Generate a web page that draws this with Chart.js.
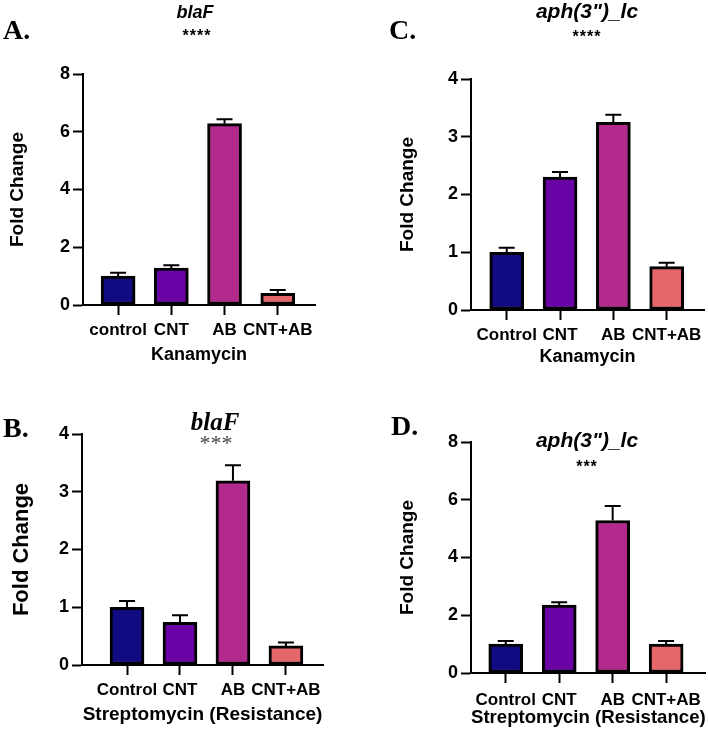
<!DOCTYPE html>
<html>
<head>
<meta charset="utf-8">
<script src="https://cdn.jsdelivr.net/npm/chart.js@4.4.1/dist/chart.umd.min.js"></script>
<style>
  body { margin: 0; background: #fff; }
  #page { position: relative; width: 708px; height: 736px; overflow: hidden; background: #fff; }
  canvas { position: absolute; }
  .lbl { position: absolute; white-space: nowrap; color: #000; }
  .panel { font-family: "Liberation Serif", "Times New Roman", serif; font-weight: bold; font-size: 28px; line-height: 28px; }
  .gene { font-family: "Liberation Sans", Arial, sans-serif; font-weight: bold; font-style: italic; font-size: 18px; line-height: 18px; text-align: center; }
  .stars { font-family: "Liberation Sans", Arial, sans-serif; font-weight: bold; font-size: 16px; line-height: 16px; text-align: center; letter-spacing: 1px; }
</style>
</head>
<body>
<div id="page">
  <canvas id="chartA" width="354" height="368" style="left:0;top:0"></canvas>
  <canvas id="chartC" width="354" height="368" style="left:354px;top:0"></canvas>
  <canvas id="chartB" width="354" height="368" style="left:0;top:368px"></canvas>
  <canvas id="chartD" width="354" height="368" style="left:354px;top:368px"></canvas>

  <div class="lbl panel" style="left:3px;top:16px">A.</div>
  <div class="lbl panel" style="left:389px;top:16px">C.</div>
  <div class="lbl panel" style="left:3px;top:414px">B.</div>
  <div class="lbl panel" style="left:391px;top:412px">D.</div>

  <div class="lbl gene" style="left:145px;width:100px;top:3px">blaF</div>
  <div class="lbl stars" style="left:147px;width:100px;top:28px">****</div>

  <div class="lbl gene" style="left:517px;width:140px;top:0px;font-size:21px;line-height:21px">aph(3")_lc</div>
  <div class="lbl stars" style="left:537px;width:100px;top:29px">****</div>

  <div class="lbl" style="left:165px;width:100px;top:409px;text-align:center;font-family:'Liberation Serif','Times New Roman',serif;font-weight:bold;font-style:italic;font-size:25px;line-height:25px">blaF</div>
  <div class="lbl" style="left:166px;width:100px;top:432px;text-align:center;font-family:'Liberation Serif','Times New Roman',serif;font-size:22px;line-height:22px;color:#444">***</div>

  <div class="lbl gene" style="left:517px;width:140px;top:429px;font-size:21px;line-height:21px">aph(3")_lc</div>
  <div class="lbl stars" style="left:537px;width:100px;top:459px">***</div>
</div>

<script>
// groups
const labelsA = ["control", "CNT", "AB", "CNT+AB"];
const labelsOther = ["Control", "CNT", "AB", "CNT+AB"];

// A. blaF, Kanamycin
const blaFKanMean = [1.0, 1.28, 6.28, 0.4];
const blaFKanErr = [0.12, 0.1, 0.15, 0.12];
// C. aph(3")_lc, Kanamycin
const aphKanMean = [1.0, 2.3, 3.25, 0.75];
const aphKanErr = [0.08, 0.09, 0.13, 0.07];
// B. blaF, Streptomycin
const blaFStrMean = [1.0, 0.74, 3.19, 0.33];
const blaFStrErr = [0.11, 0.12, 0.27, 0.06];
// D. aph(3")_lc, Streptomycin
const aphStrMean = [1.0, 2.35, 5.28, 1.0];
const aphStrErr = [0.11, 0.1, 0.5, 0.11];

const yTicksA = [0, 2, 4, 6, 8];
const yTicksC = [0, 1, 2, 3, 4];
const yTicksB = [0, 1, 2, 3, 4];
const yTicksD = [0, 2, 4, 6, 8];

const barColors = ["#100b80", "#6a03a6", "#b32a8d", "#e6676a"];
const SANS = "'Liberation Sans', Arial, sans-serif";

// draws the SEM bars on top of each column
const errorBars = {
  id: "errorBars",
  afterDatasetsDraw(chart) {
    const ctx = chart.ctx;
    const ds = chart.data.datasets[0];
    const yScale = chart.scales.y;
    chart.getDatasetMeta(0).data.forEach(function (bar, i) {
      const top = yScale.getPixelForValue(ds.data[i].y + ds.errors[i]);
      ctx.save();
      ctx.strokeStyle = "#000";
      ctx.lineWidth = 2;
      ctx.beginPath();
      ctx.moveTo(bar.x, bar.y);
      ctx.lineTo(bar.x, top);
      ctx.moveTo(bar.x - 8, top);
      ctx.lineTo(bar.x + 8, top);
      ctx.stroke();
      ctx.restore();
    });
  }
};

function makeChart(id, p) {
  const ctx = document.getElementById(id).getContext("2d");
  return new Chart(ctx, {
    type: "bar",
    data: {
      datasets: [{
        data: p.means.map(function (v, i) { return { x: i, y: v }; }),
        errors: p.errs,
        backgroundColor: barColors,
        borderColor: "#000",
        borderWidth: 3,
        borderSkipped: false,
        barThickness: 34
      }]
    },
    plugins: [errorBars],
    options: {
      responsive: false,
      animation: false,
      devicePixelRatio: 1,
      layout: { padding: { left: 0, top: p.padTop, right: p.padRight, bottom: 0 } },
      plugins: { legend: { display: false }, tooltip: { enabled: false } },
      scales: {
        x: {
          type: "linear",
          offset: false,
          min: p.xMin,
          max: p.xMax,
          afterBuildTicks: function (scale) {
            scale.ticks = p.labels.map(function (_, i) { return { value: i }; });
          },
          afterFit: function (scale) { scale.height = p.xHeight; },
          ticks: {
            autoSkip: false,
            maxRotation: 0,
            padding: p.xTickPad,
            color: "#000",
            font: { family: SANS, weight: "bold", size: p.xTickSize }, 
            callback: function (v, i) { return p.labels[i]; }
          },
          grid: { display: true, offset: false, drawOnChartArea: false, tickLength: 10, tickWidth: 2, tickColor: "#000" },
          border: { display: true, color: "#000", width: 2 },
          title: {
            display: true,
            text: p.xTitle,
            color: "#000",
            font: { family: SANS, weight: "bold", size: p.xTitleSize },
            padding: { top: 0, bottom: p.xTitlePad }
          }
        },
        y: {
          min: 0,
          max: p.yTicks[p.yTicks.length - 1],
          afterBuildTicks: function (scale) {
            scale.ticks = p.yTicks.map(function (v) { return { value: v }; });
          },
          afterFit: function (scale) { scale.width = p.yWidth; },
          ticks: {
            padding: 3,
            color: "#000",
            font: { family: SANS, weight: "bold", size: 18 }
          },
          grid: { display: true, drawOnChartArea: false, tickLength: 10, tickWidth: 2, tickColor: "#000" },
          border: { display: true, color: "#000", width: 2 },
          title: {
            display: true,
            text: "Fold Change",
            color: "#000",
            font: { family: SANS, weight: "bold", size: p.yTitleSize },
            padding: { top: p.yTitlePad, bottom: 0 }
          }
        }
      }
    }
  });
}

makeChart("chartA", {
  means: blaFKanMean, errs: blaFKanErr, labels: labelsA, yTicks: yTicksA,
  xMin: -0.66, xMax: 3.7, padTop: 74, padRight: 39, yWidth: 83, xHeight: 63,
  xTickPad: 5, xTickSize: 17, xTitle: "Kanamycin", xTitleSize: 18, xTitlePad: 2,
  yTitleSize: 19, yTitlePad: 6
});
makeChart("chartC", {
  means: aphKanMean, errs: aphKanErr, labels: labelsOther, yTicks: yTicksC,
  xMin: -0.67, xMax: 3.7, padTop: 79, padRight: 4, yWidth: 117, xHeight: 58,
  xTickPad: 5, xTickSize: 17, xTitle: "Kanamycin", xTitleSize: 18, xTitlePad: 0,
  yTitleSize: 19, yTitlePad: 42
});
makeChart("chartB", {
  means: blaFStrMean, errs: blaFStrErr, labels: labelsOther, yTicks: yTicksB,
  xMin: -0.85, xMax: 3.7, padTop: 66, padRight: 31, yWidth: 82, xHeight: 71,
  xTickPad: 5, xTickSize: 17, xTitle: "Streptomycin (Resistance)", xTitleSize: 19, xTitlePad: 10,
  yTitleSize: 22, yTitlePad: 9
});
makeChart("chartD", {
  means: aphStrMean, errs: aphStrErr, labels: labelsOther, yTicks: yTicksD,
  xMin: -0.65, xMax: 3.74, padTop: 74, padRight: 1, yWidth: 117, xHeight: 63,
  xTickPad: 7, xTickSize: 17, xTitle: "Streptomycin (Resistance)", xTitleSize: 19, xTitlePad: 7,
  yTitleSize: 19, yTitlePad: 42
});
</script>
</body>
</html>
